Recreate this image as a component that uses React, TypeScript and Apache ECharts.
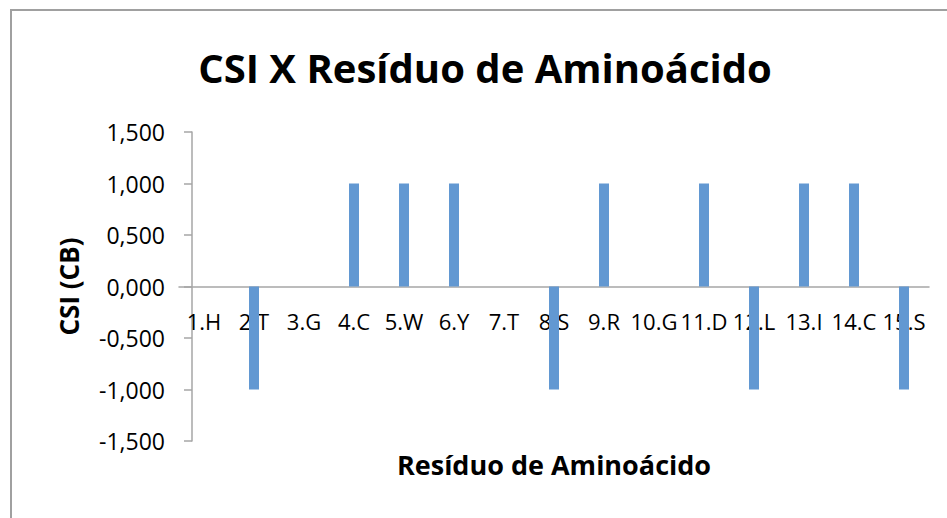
import React, { useEffect, useRef } from "react";
import * as echarts from "echarts";

const categories = ["1.H", "2.T", "3.G", "4.C", "5.W", "6.Y", "7.T", "8.S", "9.R", "10.G", "11.D", "12.L", "13.I", "14.C", "15.S"];
const csiValues = [0, -1, 0, 1, 1, 1, 0, -1, 1, 0, 1, -1, 1, 1, -1];
const yMin = -1.5;
const yMax = 1.5;
const yInterval = 0.5;
const titleText = "CSI X Resíduo de Aminoácido";
const xName = "Resíduo de Aminoácido";
const yName = "CSI (CB)";

const FONT = "'Open Sans', 'Noto Sans', sans-serif";

const GRID_TOP = 132;
const GRID_BOTTOM = 77;
const CHART_H = 518;

export default function App() {
  const ref = useRef<HTMLDivElement>(null);
  useEffect(() => {
    document.body.style.margin = "0";
    if (!ref.current) return;
    const chart = echarts.init(ref.current, null, { renderer: "svg" });
    // place the category axis where the value axis crosses zero
    const gridH = CHART_H - GRID_TOP - GRID_BOTTOM;
    const zeroOffset = -gridH * ((0 - yMin) / (yMax - yMin));
    chart.setOption({
      animation: false,
      backgroundColor: "#ffffff",
      textStyle: { fontFamily: FONT },
      title: {
        text: titleText,
        left: 480,
        textAlign: "center",
        top: 42,
        textStyle: { fontFamily: FONT, fontWeight: "bold", fontSize: 40, color: "#000" },
      },
      graphic: [
        {
          type: "rect",
          shape: { x: 11, y: 10, width: 980, height: 560 },
          style: { fill: "none", stroke: "#a0a0a0", lineWidth: 2 },
          silent: true,
        },
      ],
      grid: { left: 179, right: 18, top: GRID_TOP, bottom: GRID_BOTTOM, containLabel: false, outerBoundsMode: "none" },
      xAxis: {
        type: "category",
        data: categories,
        boundaryGap: true,
        offset: zeroOffset,
        name: xName,
        nameLocation: "middle",
        nameGap: 164,
        nameTextStyle: { fontFamily: FONT, fontWeight: "bold", fontSize: 27, color: "#000" },
        axisLine: { show: true, onZero: false, lineStyle: { color: "#a6a6a6", width: 1.5 } },
        axisTick: { show: false },
        axisLabel: {
          interval: 0,
          hideOverlap: false,
          margin: 23,
          fontFamily: FONT,
          fontSize: 22,
          color: "#000",
        },
        splitLine: { show: false },
      },
      yAxis: {
        type: "value",
        min: yMin,
        max: yMax,
        interval: yInterval,
        offset: -13,
        name: yName,
        nameLocation: "middle",
        nameRotate: 90,
        nameGap: 110,
        nameTextStyle: { fontFamily: FONT, fontWeight: "bold", fontSize: 26, color: "#000" },
        axisLine: { show: true, lineStyle: { color: "#a6a6a6", width: 1.5 } },
        axisTick: { show: true, inside: false, length: 8, lineStyle: { color: "#a6a6a6", width: 1.5 } },
        axisLabel: {
          margin: 27,
          fontFamily: FONT,
          fontSize: 23,
          color: "#000",
          formatter: (v: number) => v.toFixed(3).replace(".", ","),
        },
        splitLine: { show: false },
      },
      series: [
        {
          type: "bar",
          data: csiValues,
          barWidth: 10,
          itemStyle: { color: "#6298D2" },
        },
      ],
    });
    return () => chart.dispose();
  }, []);
  return <div ref={ref} style={{ width: 947, height: 518 }} />;
}
